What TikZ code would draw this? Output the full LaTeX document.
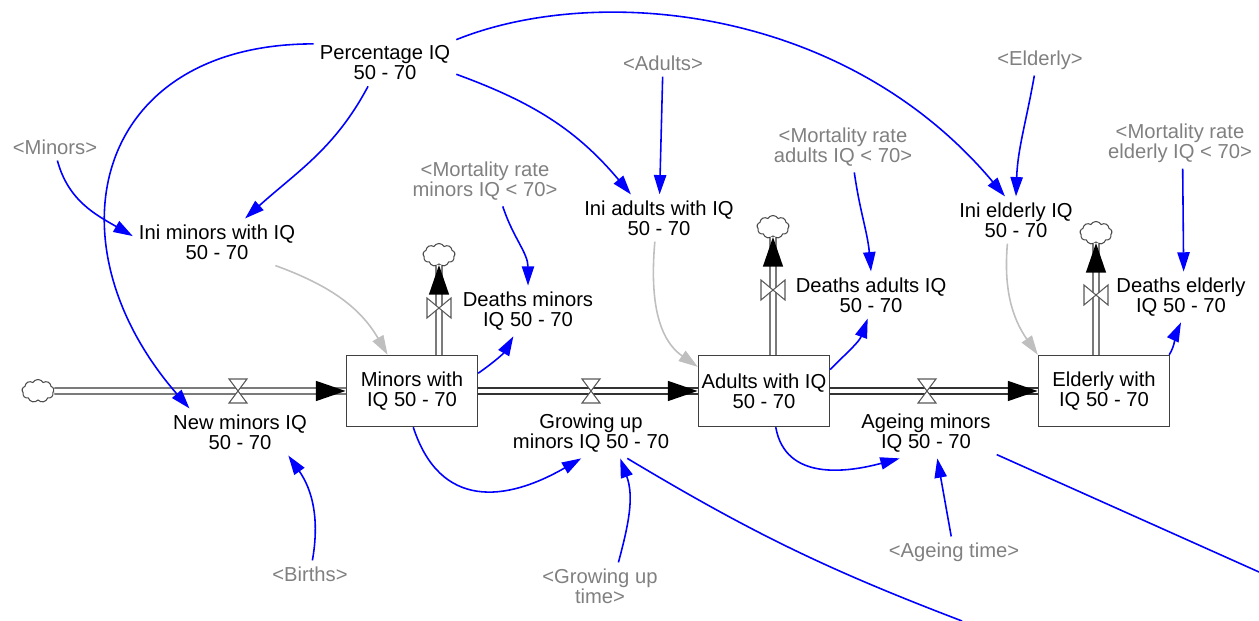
\documentclass[tikz,border=0pt]{standalone}
\usepackage{fontspec}
\setmainfont{Liberation Sans}
\usetikzlibrary{arrows.meta,shapes.symbols}

\newcommand\varfont{\fontsize{11.5}{11.4}\selectfont}

\begin{document}
\begin{tikzpicture}[x=0.02cm, y=0.02cm,
  var/.style={align=center, font=\varfont, inner sep=2pt, outer sep=1.5pt},
  shadowvar/.style={var, text=shadow_text},
  stock/.style={draw=black!75, line width=0.8pt, fill=white, align=center, font=\varfont,
    minimum width=2.62cm, minimum height=1.42cm, inner sep=0pt},
  link/.style={link_blue, line width=0.9pt, -{Triangle[length=11pt,width=7pt]}},
  initlink/.style={link, draw=init_grey},
  pipe/.style={draw=black!80, line width=0.6pt, double=white, double distance=2.8pt},
  pipetip/.style={white, line width=2pt, -{Triangle[color=black, length=17pt, width=11pt]}},
  valve/.style={draw=black!65, fill=white, line width=0.6pt},
  cloudy/.style={cloud, cloud puffs=9, cloud puff arc=120, aspect=1.4, draw=black!70,
    fill=white, line width=0.6pt, minimum width=0.64cm, minimum height=0.46cm, inner sep=0pt}]
%\draw[gray] (0,0) grid[step=50] (1259,621);
\useasboundingbox (0,0) rectangle (1259,621);

\colorlet{link_blue}{blue}
\colorlet{init_grey}{black!25}
\colorlet{shadow_text}{black!50}

% stocks
\node[stock] (minors) at (412,230) {Minors with\\IQ 50 - 70};
\node[stock] (adults) at (764,230) {Adults with IQ\\50 - 70};
\node[stock] (elderly) at (1104,230) {Elderly with\\IQ 50 - 70};

% clouds
\node[cloudy] (cSrc) at (38,230) {};
\node[cloudy] (cDM) at (439,366) {};
\node[cloudy] (cDA) at (773,394) {};
\node[cloudy] (cDE) at (1096,388) {};

% flows
\node[var] (newM) at (240,189) {New minors IQ\\50 - 70};
\node[var] (grow) at (591,188) {Growing up\\minors IQ 50 - 70};
\node[var] (age) at (926,188) {Ageing minors\\IQ 50 - 70};
\node[var] (dM) at (528,310) {Deaths minors\\IQ 50 - 70};
\node[var] (dA) at (871,326) {Deaths adults IQ\\50 - 70};
\node[var] (dE) at (1181,324) {Deaths elderly\\IQ 50 - 70};

% auxiliaries
\node[var] (pct) at (385,558) {Percentage IQ\\50 - 70};
\node[var] (iniM) at (217,379) {Ini minors with IQ\\50 - 70};
\node[var] (iniA) at (659,403) {Ini adults with IQ\\50 - 70};
\node[var] (iniE) at (1016,401) {Ini elderly IQ\\50 - 70};

% shadow variables
\node[shadowvar] (shMinors) at (55,474) {<Minors>};
\node[shadowvar] (shMortM) at (485,440) {<Mortality rate\\minors IQ < 70>};
\node[shadowvar] (shAdults) at (663,558) {<Adults>};
\node[shadowvar] (shMortA) at (843,474) {<Mortality rate\\adults IQ < 70>};
\node[shadowvar] (shElderly) at (1040,561) {<Elderly>};
\node[shadowvar] (shMortE) at (1180,478) {<Mortality rate\\elderly IQ < 70>};
\node[shadowvar] (shBirths) at (310,47) {<Births>};
\node[shadowvar] (shGrowT) at (600,35) {<Growing up\\time>};
\node[shadowvar] (shAgeT) at (954,69) {<Ageing time>};

\coordinate (vNew) at (238,230);
\coordinate (vGrow) at (591,230);
\coordinate (vAge) at (927,230);
\coordinate (vDM) at (439,313);
\coordinate (vDA) at (773,331);
\coordinate (vDE) at (1096,326);
\coordinate (growOut) at (962,0);
\coordinate (ageOut) at (1259,49);

% pipes
\foreach \a/\b in {cSrc/minors,minors/adults,adults/elderly}{
\draw[pipe] (\a) -- (\b);
\draw[pipetip] (\a) -- (\b);
}
\foreach \s/\c in {minors/cDM,adults/cDA,elderly/cDE}{
\draw[pipe] (\s.north -| \c) -- (\c);
\draw[pipetip] (\s.north -| \c) -- (\c);
}
\foreach \v in {vNew,vGrow,vAge}{
\filldraw[valve] (\v) ++(-9,12) -- ++(18,0) -- ++(-18,-24) -- ++(18,0) -- cycle;
}
\foreach \v in {vDM,vDA,vDE}{
\filldraw[valve] (\v) ++(-12,-10) -- ++(0,20) -- ++(24,-20) -- ++(0,20) -- cycle;
}

% initial values
\draw[initlink] (iniM.-22) to[out=-20,in=120] (minors.124);
\draw[initlink] (iniA.-100) to[out=-95,in=145] (adults.160);
\draw[initlink] (iniE.-110) to[out=-95,in=125] (elderly.north west);

% links
\draw[link] (pct.-126) to[out=-118,in=42] (iniM.40);
\draw[link] (pct.165) .. controls +(180:220) and +(131:220) .. (newM.155);
\draw[link] (pct.-9) to[out=-20,in=130] (iniA.140);
\draw[link] (pct.north east) .. controls +(22:150) and +(130:250) .. (iniE.115);
\draw[link] (shMinors.-80) to[out=-75,in=150] (iniM.176);
\draw[link] (shMortM.-55) to[out=-72,in=90] (dM.north);
\draw[link] (minors.15) to[out=35,in=240] (dM.240);
\draw[link] (shAdults) -- (iniA);
\draw[link] (shMortA.-66) to[out=-82,in=95] (dA.north);
\draw[link] (adults.18) to[out=45,in=250] (dA.262);
\draw[link] (shElderly.-110) to[out=-100,in=88] (iniE.north);
\draw[link] (shMortE.-84) -- (dE.84);
\draw[link] (elderly.29) to[out=60,in=245] (dE.south);
\draw[link] (shBirths.80) to[out=80,in=-55] (newM.-26);
\draw[link] (shGrowT.52) to[out=75,in=-70] (grow.-41);
\draw[link] (minors.-88) to[out=-72,in=210,looseness=1.3] (grow.-111);
\draw[link] (shAgeT) -- (age.-66);
\draw[link] (adults.-72) to[out=-80,in=195,looseness=1.1] (age.-136);
\draw[link,-] (grow.-35) to[bend right=5] (growOut);
\draw[link,-] (age.-17) -- (ageOut);

\end{tikzpicture}
\end{document}
